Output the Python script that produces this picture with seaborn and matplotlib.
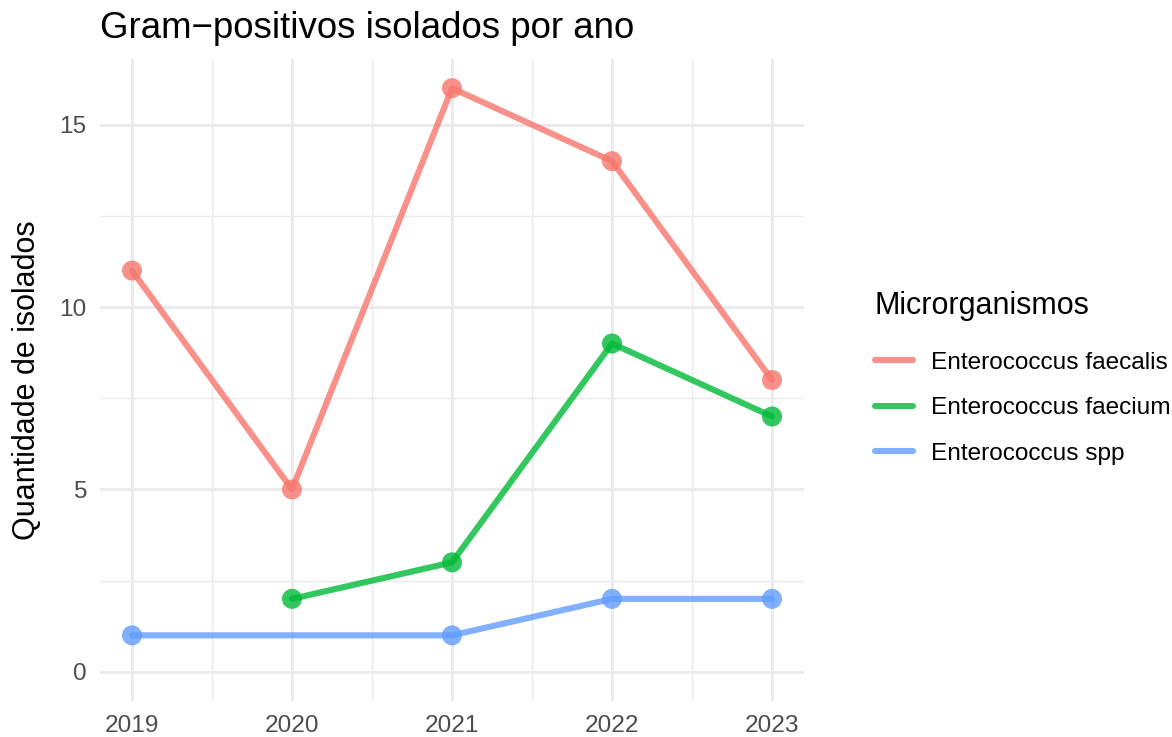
import matplotlib
import matplotlib.pyplot as plt
import pandas as pd
import seaborn as sns

matplotlib.use("Agg")

# ---------------------------------------------------------------------------
# Dados
# ---------------------------------------------------------------------------
faecalis_anos = [2019, 2020, 2021, 2022, 2023]
faecalis = [11, 5, 16, 14, 8]
faecium_anos = [2020, 2021, 2022, 2023]
faecium = [2, 3, 9, 7]
spp_anos = [2019, 2021, 2022, 2023]
spp = [1, 1, 2, 2]

anos = [2019, 2020, 2021, 2022, 2023]
especies = ["Enterococcus faecalis", "Enterococcus faecium", "Enterococcus spp"]
cores = ["#F8766D", "#00BA38", "#619CFF"]

df = pd.concat(
    [
        pd.DataFrame({"ano": faecalis_anos, "n": faecalis, "micro": especies[0]}),
        pd.DataFrame({"ano": faecium_anos, "n": faecium, "micro": especies[1]}),
        pd.DataFrame({"ano": spp_anos, "n": spp, "micro": especies[2]}),
    ],
    ignore_index=True,
)

# ---------------------------------------------------------------------------
# Estilo
# ---------------------------------------------------------------------------
sns.set_theme(style="white")
plt.rcParams["font.family"] = ["Liberation Sans", "DejaVu Sans"]
plt.rcParams["text.color"] = "black"

fig = plt.figure(figsize=(5.86, 3.685), dpi=200)
ax = fig.add_axes([100 / 1172, 36 / 737, 704 / 1172, 642 / 737])

palette = dict(zip(especies, cores))
sns.lineplot(
    data=df, x="ano", y="n", hue="micro", hue_order=especies,
    palette=palette, linewidth=2.2, alpha=0.8, ax=ax, zorder=3,
)
sns.scatterplot(
    data=df, x="ano", y="n", hue="micro", hue_order=especies,
    palette=palette, s=7.2 ** 2, alpha=0.8, linewidth=0, ax=ax,
    legend=False, zorder=4,
)

# eixos
ax.set_xlim(2018.8, 2023.2)
ax.set_ylim(-0.8, 16.8)
ax.set_xticks(anos)
ax.set_xticklabels([str(a) for a in anos])
ax.set_yticks([0, 5, 10, 15])
ax.set_xticks([2019.5, 2020.5, 2021.5, 2022.5], minor=True)
ax.set_yticks([2.5, 7.5, 12.5], minor=True)

ax.grid(which="major", color="#EBEBEB", linewidth=1.07)
ax.grid(which="minor", color="#EBEBEB", linewidth=0.53)
ax.set_axisbelow(True)
for s in ax.spines.values():
    s.set_visible(False)
ax.tick_params(which="both", length=0, labelsize=8.8, labelcolor="#4D4D4D", pad=4.9)

ax.set_xlabel("")
ax.set_ylabel("Quantidade de isolados", fontsize=11, color="black", labelpad=6)
ax.set_title("Gram\u2212positivos isolados por ano", loc="left",
             fontsize=13.2, pad=7.5, color="black")

# legenda
handles, labels = ax.get_legend_handles_labels()
leg = ax.legend(
    handles, labels, title="Microrganismos",
    loc="center left", bbox_to_anchor=(865 / 1172, 1 - 378 / 737),
    bbox_transform=fig.transFigure, frameon=False,
    fontsize=8.8, title_fontsize=11, handlelength=1.55,
    handletextpad=0.75, labelspacing=0.95, borderaxespad=0,
    labelcolor="black",
)
leg._legend_box.align = "left"
leg._legend_box.sep = 11.0
leg.get_title().set_color("black")
for line in leg.get_lines():
    line.set_linewidth(2.2)
    line.set_alpha(0.8)

fig.savefig("out.png", dpi=200)
plt.close(fig)
